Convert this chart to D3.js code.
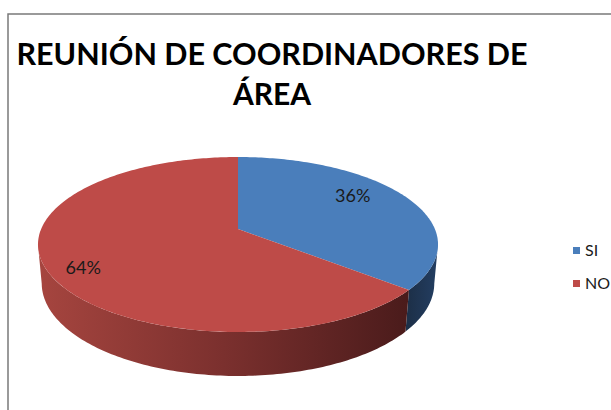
<!DOCTYPE html>
<html>
<head>
<meta charset="utf-8">
<script src="https://cdn.jsdelivr.net/npm/d3@7"></script>
<style>
  body { margin: 0; background: #fff; }
  svg { display: block; }
</style>
</head>
<body>
<div id="chart"></div>
<script>
const width = 611;
const height = 410;

const categories = ["SI", "NO"];
const values = [36, 64];
const titleLines = ["REUNIÓN DE COORDINADORES DE", "ÁREA"];

const topColors = ["#4a7ebb", "#be4b48"];
const sideStops = [
    ["#1d3049", "#233e62"],
    ["#a6453f", "#7b302e", "#4a1b1b"]
];

const svg = d3.select("#chart")
    .append("svg")
    .attr("width", width)
    .attr("height", height);

// chart frame (runs off the right and bottom edges)
svg.append("path")
    .attr("d", "M8," + height + "V14H" + width)
    .attr("fill", "none")
    .attr("stroke", "#7a7a7a")
    .attr("stroke-width", 1.5);

// title
svg.append("g")
    .selectAll("text")
    .data(titleLines)
    .enter()
    .append("text")
    .attr("x", 272)
    .attr("y", (d, i) => 65 + i * 40)
    .attr("text-anchor", "middle")
    .attr("textLength", (d, i) => i === 0 ? 511 : null)
    .attr("lengthAdjust", "spacingAndGlyphs")
    .style("font-family", "Lato, 'Open Sans', sans-serif")
    .style("font-weight", 700)
    .style("font-size", "30px")
    .style("fill", "#000")
    .text(d => d);

// simple perspective camera for the tilted pie
const cam = { cx: 238, cy: 229, f: 1003, D: 5.095, tilt: Math.asin(0.4305), depth: 0.219 };
const sinT = Math.sin(cam.tilt), cosT = Math.cos(cam.tilt);

function project(a, r, Y) {
    const X = r * Math.sin(a), Z = r * Math.cos(a);
    const yv = Y * cosT + Z * sinT;
    const zv = -Y * sinT + Z * cosT + cam.D;
    return [cam.cx + cam.f * X / zv, cam.cy - cam.f * yv / zv];
}

function arcPoints(a0, a1, Y) {
    const n = Math.max(2, Math.ceil((a1 - a0) / (Math.PI / 180)));
    return d3.range(n + 1).map(i => project(a0 + (a1 - a0) * i / n, 1, Y));
}

const pie = d3.pie().sort(null).value(d => d);
const arcs = pie(values);

const line = d3.line();

// front-facing part of the rim
const lo = Math.acos(-cosT / cam.D);
const hi = 2 * Math.PI - lo;

const defs = svg.append("defs");
arcs.forEach((d, i) => {
    const a0 = Math.max(d.startAngle, lo), a1 = Math.min(d.endAngle, hi);
    d.side = a1 > a0 ? [a0, a1] : null;
    if (!d.side) return;
    const x0 = project(a0, 1, 0)[0], x1 = project(a1, 1, 0)[0];
    const g = defs.append("linearGradient")
        .attr("id", "side" + i)
        .attr("gradientUnits", "userSpaceOnUse")
        .attr("x1", Math.min(x0, x1)).attr("x2", Math.max(x0, x1))
        .attr("y1", 0).attr("y2", 0);
    const stops = sideStops[i];
    stops.forEach((c, k) => {
        g.append("stop")
            .attr("offset", k / (stops.length - 1))
            .attr("stop-color", c);
    });
});

// sides
svg.append("g")
    .selectAll("path")
    .data(arcs.filter(d => d.side))
    .enter()
    .append("path")
    .attr("d", d => {
        const top = arcPoints(d.side[0], d.side[1], 0);
        const bottom = arcPoints(d.side[0], d.side[1], -cam.depth).reverse();
        return line(top.concat(bottom)) + "Z";
    })
    .attr("fill", d => "url(#side" + d.index + ")");

// top faces
svg.append("g")
    .selectAll("path")
    .data(arcs)
    .enter()
    .append("path")
    .attr("d", d => line([[cam.cx, cam.cy]].concat(arcPoints(d.startAngle, d.endAngle, 0))) + "Z")
    .attr("fill", (d, i) => topColors[i]);

// percentage labels
const total = d3.sum(values);
const labelTurn = -0.113; // excel puts them a little counter-clockwise of the mid angle
svg.append("g")
    .selectAll("text")
    .data(arcs)
    .enter()
    .append("text")
    .attr("transform", d => {
        const p = project((d.startAngle + d.endAngle) / 2 + labelTurn, 0.8, 0);
        return "translate(" + (p[0] - 10) + "," + p[1] + ")";
    })
    .attr("dy", "0.35em")
    .attr("text-anchor", "middle")
    .style("font-family", "Lato, 'Open Sans', sans-serif")
    .style("font-size", "18px")
    .style("fill", "#1a1a1a")
    .text(d => d3.format(".0%")(d.value / total));

// legend
const legend = svg.append("g")
    .selectAll("g")
    .data(categories)
    .enter()
    .append("g")
    .attr("transform", (d, i) => "translate(573," + (247 + i * 33) + ")");

legend.append("rect")
    .attr("width", 7)
    .attr("height", 7)
    .attr("fill", (d, i) => topColors[i]);

legend.append("text")
    .attr("x", 12)
    .attr("y", 9)
    .style("font-family", "Lato, 'Open Sans', sans-serif")
    .style("font-size", "16px")
    .style("fill", "#1a1a1a")
    .text(d => d);
</script>
</body>
</html>
